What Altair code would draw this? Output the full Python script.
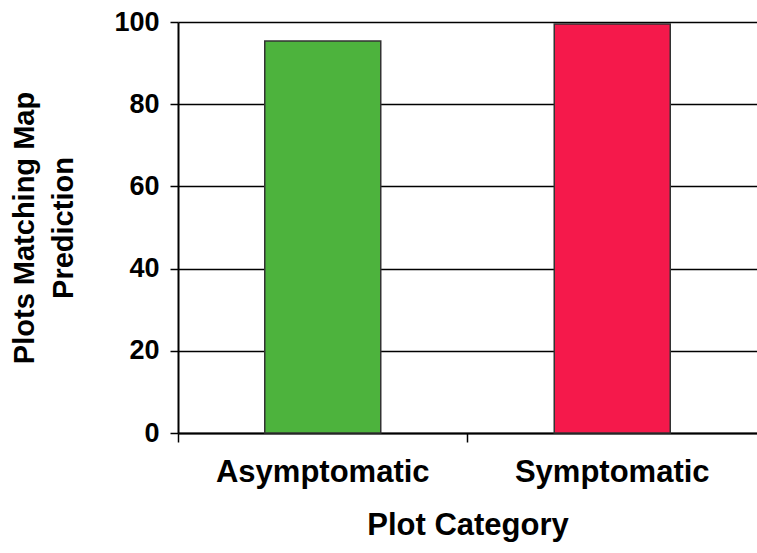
import altair as alt
import pandas as pd

categories = ["Asymptomatic", "Symptomatic"]
values = [95.4, 99.5]
colors = ["#4db33d", "#f5194b"]

df = pd.DataFrame({"cat": categories, "val": values, "color": colors})

FONT = "Liberation Sans"

x_scale = alt.Scale(paddingInner=0, paddingOuter=0)

bars = alt.Chart(df).mark_bar(size=116, stroke="#333333", strokeWidth=1.5).encode(
    x=alt.X("cat:N", sort=categories, scale=x_scale,
            axis=alt.Axis(title="Plot Category", labelAngle=0, ticks=False,
                          labelPadding=24, titlePadding=23, domain=True, labelLimit=0,
                          labelFontSize=31, titleFontSize=31,
                          domainColor="black", domainWidth=2, grid=False,
                          orient="bottom")),
    y=alt.Y("val:Q", scale=alt.Scale(domain=[0, 100], nice=False),
            axis=alt.Axis(title=["Plots Matching Map", "Prediction"], values=[0, 20, 40, 60, 80, 100],
                          grid=True, gridColor="black", gridWidth=1.5, gridOpacity=1,
                          domainColor="black", domainWidth=2, tickColor="black",
                          labelFontSize=27, titleFontSize=29, titleLimit=0,
                          tickSize=8, tickWidth=1.5, labelPadding=11,
                          titlePadding=35, titleLineHeight=39)),
    color=alt.Color("color:N", scale=None),
)

ticks = alt.Chart(df).mark_bar(opacity=0).encode(
    x=alt.X("cat:N", sort=categories, scale=x_scale,
            axis=alt.Axis(title=None, labels=False, domain=False, ticks=True, grid=False,
                          bandPosition=0, tickSize=9, tickColor="black", tickWidth=1.5,
                          orient="bottom")),
    y=alt.Y("val:Q"),
)

chart = alt.layer(bars, ticks).resolve_axis(x="independent").properties(
    width=579, height=411,
    autosize=alt.AutoSizeParams(type="none"),
    padding={"left": 178, "top": 22, "right": 0, "bottom": 120},
).configure_axis(
    labelFont=FONT, titleFont=FONT,
    labelFontWeight="bold", titleFontWeight="bold", labelColor="black", titleColor="black",
).configure_view(stroke=None)

chart.save("out.html", embed_options={"renderer": "svg", "actions": False})
